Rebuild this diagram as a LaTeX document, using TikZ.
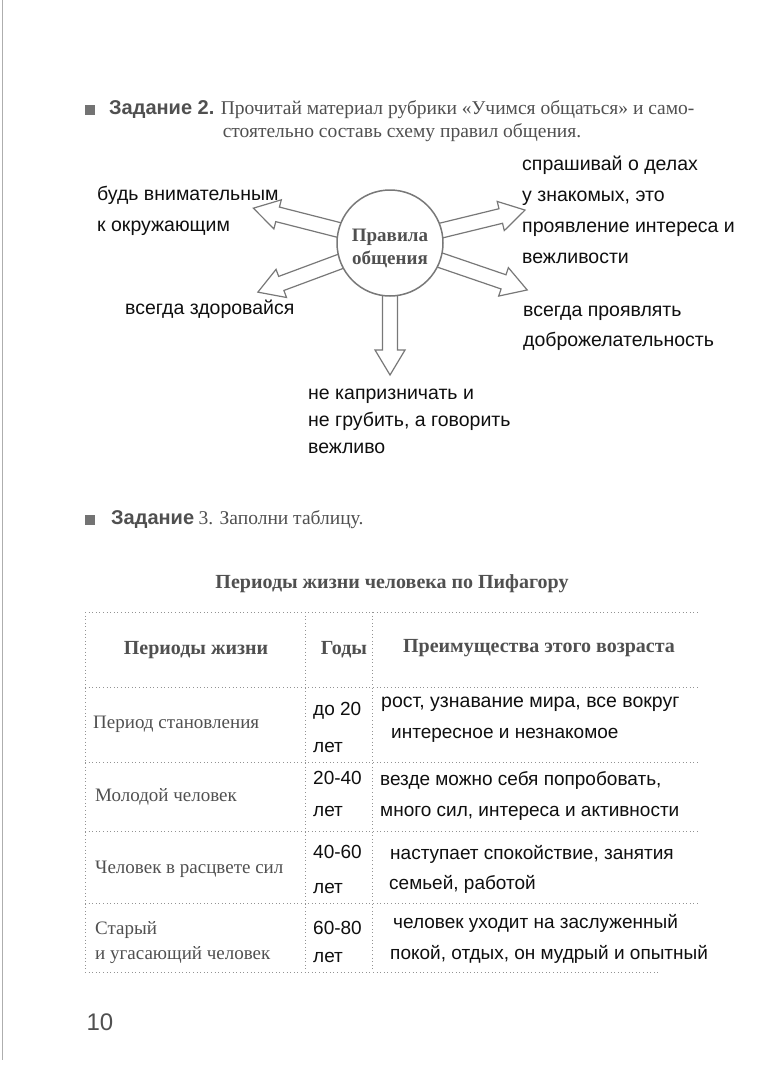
\documentclass[tikz,border=0pt]{standalone}
\usepackage{fontspec}
\setmainfont{Liberation Serif}
\newfontfamily\ansfont{Liberation Sans}
\definecolor{printgray}{RGB}{80,80,80}
\definecolor{linegray}{RGB}{120,120,120}
\definecolor{inkblack}{RGB}{15,15,15}
\newcommand\hollowarr[2]{%
  \begin{scope}[shift={(c.center)}, rotate=#1]
    \draw[arrline] (0,-7.5) -- (#2-25,-7.5) -- (#2-25,-15) -- (#2,0) -- (#2-25,15) -- (#2-25,7.5) -- (0,7.5);
  \end{scope}}
\begin{document}
\begin{tikzpicture}[x=1pt,y=-1pt,
  ans/.style={inner sep=0pt, anchor=north west, align=left, text=inkblack, font=\ansfont\fontsize{19.5}{31}\selectfont},
  tans/.style={inner sep=0pt, anchor=north west, align=left, text=inkblack, font=\ansfont\fontsize{19}{31.5}\selectfont},
  prt/.style={inner sep=0pt, text=printgray, font=\fontsize{19.5}{22}\selectfont},
  rowl/.style={inner sep=0pt, anchor=west, text=printgray, font=\fontsize{19}{22}\selectfont},
  prtb/.style={inner sep=0pt, text=printgray, font=\bfseries\fontsize{20}{22}\selectfont},
  zad/.style={inner sep=0pt, text=printgray, font=\ansfont\bfseries\fontsize{20}{22}\selectfont},
  yrs/.style={inner sep=0pt, anchor=west, text=inkblack, font=\ansfont\fontsize{19}{22}\selectfont},
  arrline/.style={draw=linegray, line width=1.2pt, fill=white, line join=miter},
  tabline/.style={draw=linegray!80, line width=0.9pt, dash pattern=on 1pt off 2.6pt},
  bullet/.style={fill=printgray!80, draw=none, minimum size=10pt, inner sep=0pt}
]
\useasboundingbox (0,0) rectangle (756,1076);
\fill[white] (0,0) rectangle (756,1076);
\draw[linegray!60, line width=0.8pt] (2,0) -- (2,1060);

% Task 2 header
\node[bullet] (b2) at (90,110) {};
\node[zad, anchor=west] (z2) at (109,110) {Задание 2.};
\node[prt, anchor=base west] (t2a) at ([xshift=6pt]z2.base east) {Прочитай материал рубрики «Учимся общаться» и само-};
\node[prt] (t2b) at (402,133) {стоятельно составь схему правил общения.};

% arrows
\node[circle, minimum size=106pt, inner sep=0pt] (c) at (390,243) {};
\hollowarr{165.7}{141}
\hollowarr{200.4}{141}
\hollowarr{270}{132}
\hollowarr{13.7}{139}
\hollowarr{-18.9}{145}
\node[circle, draw=linegray, line width=1.5pt, fill=white, minimum size=106pt, inner sep=0pt] (cc) at (c.center) {};
\node[inner sep=0pt, align=center, text=printgray, font=\bfseries\fontsize{19}{23}\selectfont] (ct) at (390,248) {Правила\\общения};

% answers around
\node[ans] (a1) at (97,186) {будь внимательным\\к окружающим};
\node[ans] (a2) at (522,156) {спрашивай о делах\\у знакомых, это\\проявление интереса и\\вежливости};
\node[ans] (a3) at (125,300) {всегда здоровайся};
\node[ans, font=\ansfont\fontsize{19.5}{30}\selectfont] (a4) at (523,306) {всегда проявлять\\доброжелательность};
\node[ans, font=\ansfont\fontsize{19.5}{27}\selectfont] (a5) at (308,389) {не капризничать и\\не грубить, а говорить\\вежливо};

% Task 3 header
\node[bullet] (b3) at (90,520) {};
\node[zad, anchor=west] (z3) at (111,520) {Задание};
\node[prt, anchor=base west] (t3) at ([xshift=4pt]z3.base east) {3. Заполни таблицу.};
\node[prtb] (title) at (392,584) {Периоды жизни человека по Пифагору};

% table lines
\draw[tabline] (85,612) -- (700,612);
\draw[tabline] (85,687) -- (700,687);
\draw[tabline] (85,762) -- (700,762);
\draw[tabline] (85,831) -- (700,831);
\draw[tabline] (85,903) -- (700,903);
\draw[tabline] (85,972) -- (660,972);
\draw[tabline] (85,612) -- (85,972);
\draw[tabline] (305,612) -- (305,972);
\draw[tabline] (372,612) -- (372,972);

% header
\node[prtb] (h1) at (196,650) {Периоды жизни};
\node[prtb] (h2) at (344,650) {Годы};
\node[prtb] (h3) at (539,648) {Преимущества этого возраста};

% rows
\node[rowl] (r1) at (93,724) {Период становления};
\node[yrs] (y1a) at (313,711) {до 20};
\node[yrs] (y1b) at (313,747) {лет};
\node[tans, font=\ansfont\fontsize{19.5}{22}\selectfont] (d1) at (381,697) {рост, узнавание мира, все вокруг};
\node[tans] (d1b) at (391,728) {интересное и незнакомое};

\node[rowl] (r2) at (95,797) {Молодой человек};
\node[yrs] (y2a) at (313,778) {20-40};
\node[yrs] (y2b) at (313,811) {лет};
\node[tans] (d2) at (380,771) {везде можно себя попробовать,\\много сил, интереса и активности};

\node[rowl] (r3) at (95,869) {Человек в расцвете сил};
\node[yrs] (y3a) at (313,852) {40-60};
\node[yrs] (y3b) at (313,888) {лет};
\node[tans] (d3) at (390,845) {наступает спокойствие, занятия};
\node[tans] (d3b) at (389,875) {семьей, работой};

\node[rowl] (r4a) at (95,930) {Старый};
\node[rowl] (r4b) at (95,955) {и угасающий человек};
\node[yrs] (y4a) at (313,928) {60-80};
\node[yrs] (y4b) at (313,957) {лет};
\node[tans] (d4) at (393,914) {человек уходит на заслуженный};
\node[tans] (d4b) at (390,945) {покой, отдых, он мудрый и опытный};

% page number
\node[inner sep=0pt, text=printgray, font=\ansfont\fontsize{24}{26}\selectfont] (pg) at (100,1022) {10};
\end{tikzpicture}
\end{document}
